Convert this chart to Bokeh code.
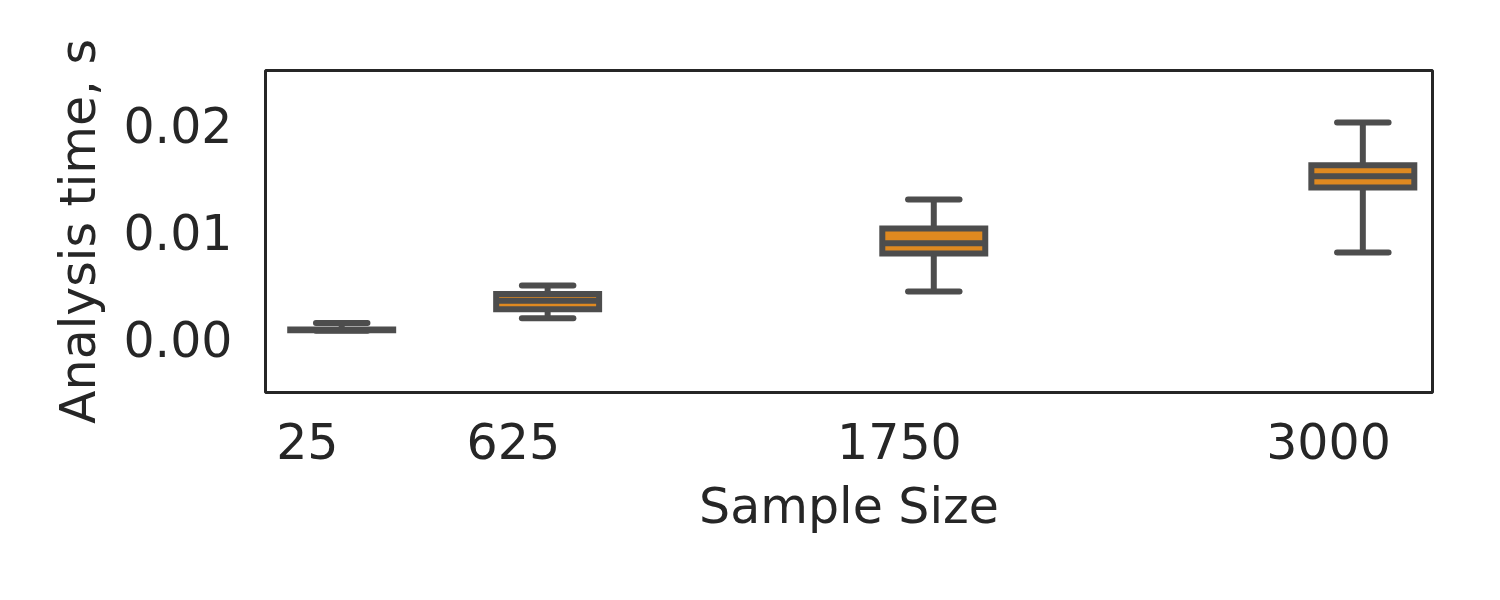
from bokeh.plotting import figure
from bokeh.models import Range1d, FixedTicker, NumeralTickFormatter, ColumnDataSource
from bokeh.embed import file_html
from bokeh.resources import INLINE

# ---- data ----
sample_sizes = [25, 625, 1750, 3000]
tick_labels = ["25", "625", "1750", "3000"]
whisker_lo = [0.00082, 0.00199, 0.00447, 0.00811]
q1 = [0.00086, 0.00283, 0.00801, 0.01417]
median = [0.00089, 0.00361, 0.00896, 0.01521]
q3 = [0.00092, 0.00423, 0.01034, 0.01624]
whisker_hi = [0.00154, 0.00503, 0.01305, 0.02022]

# ---- style ----
BOX_W = 300          # box width in data units
LABEL_SHIFT = 100    # tick labels sit left of the boxes in the reference
GRAY = "#4d4d4d"
ORANGE = "#df8920"
TEXT = "#262626"
FONT = "DejaVu Sans"
FS = "49px"
LW = 6

W, H = 1484, 584
p = figure(width=W, height=H, output_backend="svg", toolbar_location=None,
           x_range=Range1d(-197, 3203), y_range=Range1d(-0.00494, 0.02507),
           min_border_left=265, min_border_right=52, min_border_top=70,
           min_border_bottom=192)
p.background_fill_color = "white"
p.border_fill_color = "white"
p.outline_line_color = TEXT
p.outline_line_width = 3
p.xgrid.visible = False
p.ygrid.visible = False

left = [s - BOX_W / 2 for s in sample_sizes]
right = [s + BOX_W / 2 for s in sample_sizes]
cap_l = [s - BOX_W / 4 for s in sample_sizes]
cap_r = [s + BOX_W / 4 for s in sample_sizes]

src = ColumnDataSource(dict(x=sample_sizes, left=left, right=right, cap_l=cap_l, cap_r=cap_r,
                            lo=whisker_lo, q1=q1, med=median, q3=q3, hi=whisker_hi))

# whiskers
p.segment(x0="x", y0="q3", x1="x", y1="hi", source=src, line_color=GRAY, line_width=LW)
p.segment(x0="x", y0="q1", x1="x", y1="lo", source=src, line_color=GRAY, line_width=LW)
# caps
p.segment(x0="cap_l", y0="hi", x1="cap_r", y1="hi", source=src, line_color=GRAY,
          line_width=LW, line_cap="round")
p.segment(x0="cap_l", y0="lo", x1="cap_r", y1="lo", source=src, line_color=GRAY,
          line_width=LW, line_cap="round")
# boxes
p.quad(left="left", right="right", bottom="q1", top="q3", source=src,
       fill_color=ORANGE, line_color=GRAY, line_width=LW, line_join="miter")
# medians
p.segment(x0="left", y0="med", x1="right", y1="med", source=src, line_color=GRAY,
          line_width=LW)

# axes
xa = p.xaxis[0]
xa.ticker = FixedTicker(ticks=[s - LABEL_SHIFT for s in sample_sizes])
xa.major_label_overrides = {s - LABEL_SHIFT: t for s, t in zip(sample_sizes, tick_labels)}
xa.axis_label = "Sample Size"

ya = p.yaxis[0]
ya.ticker = FixedTicker(ticks=[0.0, 0.01, 0.02])
ya.formatter = NumeralTickFormatter(format="0.00")
ya.axis_label = "Analysis time, s"

for ax in (xa, ya):
    ax.axis_line_color = None
    ax.major_tick_line_color = None
    ax.minor_tick_line_color = None
    ax.major_tick_out = 0
    ax.major_tick_in = 0
    ax.major_label_text_font = FONT
    ax.major_label_text_font_size = FS
    ax.major_label_text_color = TEXT
    ax.axis_label_text_font = FONT
    ax.axis_label_text_font_size = FS
    ax.axis_label_text_color = TEXT
    ax.axis_label_text_font_style = "normal"

xa.major_label_standoff = 30
xa.axis_label_standoff = 16
ya.major_label_standoff = 33
ya.axis_label_standoff = 13

open("out.html", "w").write(file_html(p, INLINE))
